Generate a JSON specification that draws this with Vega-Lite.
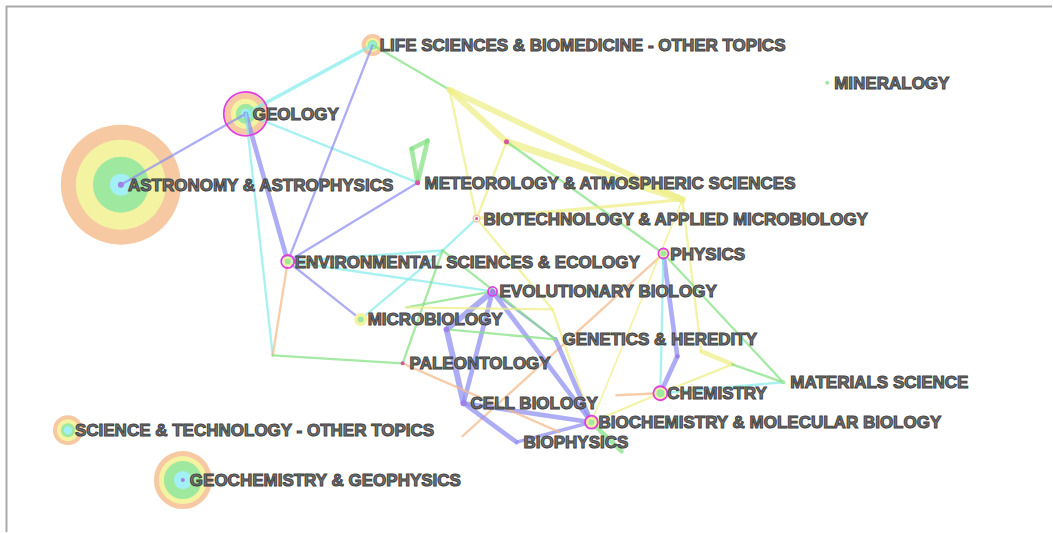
{
  "$schema": "https://vega.github.io/schema/vega-lite/v6.json",
  "width": 1053,
  "height": 533,
  "autosize": {"type": "fit", "contains": "padding"},
  "padding": 0,
  "background": "white",
  "config": {"view": {"stroke": null}},
  "datasets": {
    "nodes": [
      {"id": "ASTRO", "label": "ASTRONOMY & ASTROPHYSICS", "x": 121, "y": 185},
      {"id": "GEOLOGY", "label": "GEOLOGY", "x": 246, "y": 114},
      {"id": "LIFE", "label": "LIFE SCIENCES & BIOMEDICINE - OTHER TOPICS", "x": 373, "y": 45},
      {"id": "METEO", "label": "METEOROLOGY & ATMOSPHERIC SCIENCES", "x": 418, "y": 183},
      {"id": "BIOTECH", "label": "BIOTECHNOLOGY & APPLIED MICROBIOLOGY", "x": 477, "y": 219},
      {"id": "ENV", "label": "ENVIRONMENTAL SCIENCES & ECOLOGY", "x": 288, "y": 262},
      {"id": "EVOL", "label": "EVOLUTIONARY BIOLOGY", "x": 493, "y": 292},
      {"id": "MICRO", "label": "MICROBIOLOGY", "x": 361, "y": 320},
      {"id": "PALEO", "label": "PALEONTOLOGY", "x": 403, "y": 364},
      {"id": "GENET", "label": "GENETICS & HEREDITY", "x": 556, "y": 340},
      {"id": "CELL", "label": "CELL BIOLOGY", "x": 464, "y": 404},
      {"id": "BIOCHEM", "label": "BIOCHEMISTRY & MOLECULAR BIOLOGY", "x": 592, "y": 423},
      {"id": "BIOPHYS", "label": "BIOPHYSICS", "x": 517, "y": 443},
      {"id": "PHYSICS", "label": "PHYSICS", "x": 664, "y": 254},
      {"id": "CHEM", "label": "CHEMISTRY", "x": 661, "y": 394},
      {"id": "MATER", "label": "MATERIALS SCIENCE", "x": 784, "y": 383},
      {"id": "MINER", "label": "MINERALOGY", "x": 828, "y": 83},
      {"id": "SCITECH", "label": "SCIENCE & TECHNOLOGY - OTHER TOPICS", "x": 68, "y": 431},
      {"id": "GEOCHEM", "label": "GEOCHEMISTRY & GEOPHYSICS", "x": 183, "y": 481},
      {"id": "h1", "label": "", "x": 450, "y": 90},
      {"id": "h2", "label": "", "x": 507, "y": 142},
      {"id": "h3", "label": "", "x": 683, "y": 200},
      {"id": "h4", "label": "", "x": 443, "y": 251},
      {"id": "h5", "label": "", "x": 273, "y": 356},
      {"id": "h6", "label": "", "x": 412, "y": 149},
      {"id": "h7", "label": "", "x": 428, "y": 141},
      {"id": "h8", "label": "", "x": 447, "y": 330},
      {"id": "h9", "label": "", "x": 407, "y": 308},
      {"id": "h10", "label": "", "x": 678, "y": 357},
      {"id": "h11", "label": "", "x": 733, "y": 365},
      {"id": "h12", "label": "", "x": 702, "y": 352},
      {"id": "h13", "label": "", "x": 463, "y": 437},
      {"id": "h14", "label": "", "x": 617, "y": 396},
      {"id": "h15", "label": "", "x": 622, "y": 452},
      {"id": "h16", "label": "", "x": 560, "y": 433},
      {"id": "h18", "label": "", "x": 553, "y": 310}
    ],
    "edges": [
      {"source": "ASTRO", "target": "GEOLOGY", "slice": "p", "w": 2},
      {"source": "GEOLOGY", "target": "LIFE", "slice": "c", "w": 3},
      {"source": "GEOLOGY", "target": "METEO", "slice": "c", "w": 2},
      {"source": "GEOLOGY", "target": "ENV", "slice": "p", "w": 4},
      {"source": "GEOLOGY", "target": "h5", "slice": "c", "w": 2},
      {"source": "LIFE", "target": "ENV", "slice": "p", "w": 2},
      {"source": "LIFE", "target": "h1", "slice": "g", "w": 2},
      {"source": "METEO", "target": "ENV", "slice": "p", "w": 2},
      {"source": "METEO", "target": "h6", "slice": "g", "w": 4},
      {"source": "METEO", "target": "h7", "slice": "g", "w": 4},
      {"source": "h6", "target": "h7", "slice": "g", "w": 4},
      {"source": "h1", "target": "h2", "slice": "y", "w": 5},
      {"source": "h1", "target": "h3", "slice": "y", "w": 5},
      {"source": "h2", "target": "h3", "slice": "y", "w": 6},
      {"source": "h1", "target": "BIOTECH", "slice": "y", "w": 2},
      {"source": "BIOTECH", "target": "h18", "slice": "y", "w": 2},
      {"source": "h18", "target": "BIOCHEM", "slice": "y", "w": 2},
      {"source": "h2", "target": "BIOTECH", "slice": "y", "w": 2},
      {"source": "h2", "target": "PHYSICS", "slice": "g", "w": 2},
      {"source": "h3", "target": "BIOTECH", "slice": "y", "w": 3},
      {"source": "h3", "target": "h12", "slice": "y", "w": 2},
      {"source": "PHYSICS", "target": "MATER", "slice": "g", "w": 2},
      {"source": "PHYSICS", "target": "h10", "slice": "p", "w": 4},
      {"source": "h10", "target": "CHEM", "slice": "p", "w": 4},
      {"source": "PHYSICS", "target": "CHEM", "slice": "c", "w": 2},
      {"source": "PHYSICS", "target": "h13", "slice": "o", "w": 2},
      {"source": "CHEM", "target": "MATER", "slice": "c", "w": 2},
      {"source": "CHEM", "target": "h11", "slice": "y", "w": 2},
      {"source": "h12", "target": "h11", "slice": "y", "w": 4},
      {"source": "h11", "target": "MATER", "slice": "g", "w": 2},
      {"source": "CHEM", "target": "h14", "slice": "o", "w": 2},
      {"source": "CHEM", "target": "BIOCHEM", "slice": "y", "w": 2},
      {"source": "BIOCHEM", "target": "h3", "slice": "y", "w": 1.5},
      {"source": "BIOCHEM", "target": "EVOL", "slice": "p", "w": 4},
      {"source": "BIOCHEM", "target": "CELL", "slice": "p", "w": 4},
      {"source": "CELL", "target": "BIOPHYS", "slice": "p", "w": 4},
      {"source": "BIOPHYS", "target": "BIOCHEM", "slice": "p", "w": 3},
      {"source": "EVOL", "target": "h8", "slice": "p", "w": 5},
      {"source": "h8", "target": "CELL", "slice": "p", "w": 5},
      {"source": "EVOL", "target": "CELL", "slice": "p", "w": 4},
      {"source": "EVOL", "target": "GENET", "slice": "p", "w": 2},
      {"source": "GENET", "target": "BIOCHEM", "slice": "p", "w": 4},
      {"source": "ENV", "target": "MICRO", "slice": "p", "w": 2},
      {"source": "ENV", "target": "EVOL", "slice": "c", "w": 2},
      {"source": "ENV", "target": "h4", "slice": "c", "w": 2},
      {"source": "ENV", "target": "h5", "slice": "o", "w": 2},
      {"source": "h5", "target": "PALEO", "slice": "g", "w": 2},
      {"source": "BIOTECH", "target": "h4", "slice": "c", "w": 2},
      {"source": "h4", "target": "MICRO", "slice": "c", "w": 2},
      {"source": "h4", "target": "PALEO", "slice": "g", "w": 2},
      {"source": "h4", "target": "GENET", "slice": "g", "w": 2},
      {"source": "h9", "target": "EVOL", "slice": "g", "w": 2},
      {"source": "h9", "target": "h18", "slice": "y", "w": 2},
      {"source": "h8", "target": "GENET", "slice": "g", "w": 2},
      {"source": "PALEO", "target": "h16", "slice": "o", "w": 2},
      {"source": "BIOCHEM", "target": "h15", "slice": "g", "w": 4}
    ],
    "rings": [
      {"node": "ASTRO", "kind": "fill", "slice": "o", "r": 60},
      {"node": "ASTRO", "kind": "fill", "slice": "y", "r": 45},
      {"node": "ASTRO", "kind": "fill", "slice": "g", "r": 28},
      {"node": "ASTRO", "kind": "fill", "slice": "c", "r": 11},
      {"node": "ASTRO", "kind": "fill", "slice": "p", "r": 3},
      {"node": "GEOCHEM", "kind": "fill", "slice": "o", "r": 29},
      {"node": "GEOCHEM", "kind": "fill", "slice": "y", "r": 24},
      {"node": "GEOCHEM", "kind": "fill", "slice": "g", "r": 19},
      {"node": "GEOCHEM", "kind": "fill", "slice": "c", "r": 9},
      {"node": "GEOCHEM", "kind": "fill", "slice": "p", "r": 2},
      {"node": "GEOLOGY", "kind": "fill", "slice": "o", "r": 21},
      {"node": "GEOLOGY", "kind": "fill", "slice": "y", "r": 15},
      {"node": "GEOLOGY", "kind": "fill", "slice": "g", "r": 10},
      {"node": "GEOLOGY", "kind": "fill", "slice": "c", "r": 5},
      {"node": "SCITECH", "kind": "fill", "slice": "o", "r": 15},
      {"node": "SCITECH", "kind": "fill", "slice": "y", "r": 11},
      {"node": "SCITECH", "kind": "fill", "slice": "g", "r": 7},
      {"node": "SCITECH", "kind": "fill", "slice": "c", "r": 4},
      {"node": "LIFE", "kind": "fill", "slice": "o", "r": 11},
      {"node": "LIFE", "kind": "fill", "slice": "y", "r": 7},
      {"node": "LIFE", "kind": "fill", "slice": "g", "r": 5},
      {"node": "LIFE", "kind": "fill", "slice": "c", "r": 3},
      {"node": "CHEM", "kind": "dot", "slice": "y", "r": 6},
      {"node": "CHEM", "kind": "dot", "slice": "g", "r": 4},
      {"node": "BIOCHEM", "kind": "dot", "slice": "o", "r": 6},
      {"node": "BIOCHEM", "kind": "dot", "slice": "y", "r": 5},
      {"node": "BIOCHEM", "kind": "dot", "slice": "g", "r": 3},
      {"node": "ENV", "kind": "dot", "slice": "y", "r": 5},
      {"node": "ENV", "kind": "dot", "slice": "g", "r": 3},
      {"node": "MICRO", "kind": "dot", "slice": "y", "r": 6.5},
      {"node": "MICRO", "kind": "dot", "slice": "g", "r": 3},
      {"node": "PHYSICS", "kind": "dot", "slice": "y", "r": 4},
      {"node": "PHYSICS", "kind": "dot", "slice": "g", "r": 3},
      {"node": "EVOL", "kind": "dot", "slice": "p", "r": 2.5},
      {"node": "BIOTECH", "kind": "dot", "slice": "o", "r": 4},
      {"node": "BIOTECH", "kind": "dot", "slice": "w", "r": 2.5},
      {"node": "BIOTECH", "kind": "dot", "slice": "m", "r": 1.5},
      {"node": "METEO", "kind": "dot", "slice": "m", "r": 2.5},
      {"node": "PALEO", "kind": "dot", "slice": "m", "r": 2},
      {"node": "h2", "kind": "dot", "slice": "m", "r": 2.5},
      {"node": "CELL", "kind": "dot", "slice": "p", "r": 3},
      {"node": "h8", "kind": "dot", "slice": "p", "r": 2.5},
      {"node": "h10", "kind": "dot", "slice": "p", "r": 2},
      {"node": "MINER", "kind": "dot", "slice": "g", "r": 2},
      {"node": "MATER", "kind": "dot", "slice": "g", "r": 2},
      {"node": "GEOLOGY", "kind": "hub", "slice": "hub", "r": 22},
      {"node": "ENV", "kind": "hub", "slice": "hub", "r": 6.5},
      {"node": "EVOL", "kind": "hub", "slice": "hub", "r": 4.5},
      {"node": "PHYSICS", "kind": "hub", "slice": "hub", "r": 5},
      {"node": "CHEM", "kind": "hub", "slice": "hub", "r": 7},
      {"node": "BIOCHEM", "kind": "hub", "slice": "hub", "r": 6.5}
    ],
    "frame": [
      {"part": "top", "x": 6, "x2": 1053, "y": 6.5, "y2": 6.5},
      {"part": "left", "x": 6.5, "x2": 6.5, "y": 6, "y2": 533}
    ]
  },
  "layer": [
    {
      "data": {"name": "frame"},
      "mark": {"type": "rule", "color": "#a9a9a9", "strokeWidth": 2},
      "encoding": {
        "x": {"field": "x", "type": "quantitative", "scale": {"domain": [0, 1053], "nice": false, "zero": false}, "axis": null},
        "x2": {"field": "x2"},
        "y": {"field": "y", "type": "quantitative", "scale": {"domain": [0, 533], "nice": false, "zero": false, "reverse": true}, "axis": null},
        "y2": {"field": "y2"}
      }
    },
    {
      "data": {"name": "rings"},
      "transform": [
        {"filter": "datum.kind === 'fill'"},
        {"lookup": "node", "from": {"data": {"name": "nodes"}, "key": "id", "fields": ["x", "y"]}}
      ],
      "mark": {"type": "point", "shape": "circle", "filled": true, "opacity": 1, "strokeWidth": 0},
      "encoding": {
        "x": {"field": "x", "type": "quantitative", "axis": null},
        "y": {"field": "y", "type": "quantitative", "axis": null},
        "order": {"field": "r", "type": "quantitative", "sort": "descending"},
        "size": {"field": "r", "type": "quantitative", "legend": null, "scale": {"type": "pow", "exponent": 2, "domain": [0, 100], "range": [0, 40000]}},
        "color": {"field": "slice", "type": "nominal", "legend": null,
          "scale": {"domain": ["o", "y", "g", "c", "p", "m", "w"], "range": ["#f6c9a2", "#f4f3a2", "#9fe89f", "#a2f0f5", "#a27ee6", "#d9559f", "#ffffff"]}}
      }
    },
    {
      "data": {"name": "edges"},
      "transform": [
        {"lookup": "source", "from": {"data": {"name": "nodes"}, "key": "id", "fields": ["x", "y"]}, "as": ["sx", "sy"]},
        {"lookup": "target", "from": {"data": {"name": "nodes"}, "key": "id", "fields": ["x", "y"]}, "as": ["tx", "ty"]}
      ],
      "mark": {"type": "rule", "strokeCap": "round", "opacity": 0.72},
      "encoding": {
        "x": {"field": "sx", "type": "quantitative", "axis": null},
        "y": {"field": "sy", "type": "quantitative", "axis": null},
        "x2": {"field": "tx"},
        "y2": {"field": "ty"},
        "color": {"field": "slice", "type": "nominal", "legend": null,
          "scale": {"domain": ["p", "c", "g", "y", "o"], "range": ["#8e8ef2", "#86ecec", "#82e082", "#efef86", "#f2ba8a"]}},
        "strokeWidth": {"field": "w", "type": "quantitative", "legend": null, "scale": {"domain": [0, 6], "range": [0, 7]}}
      }
    },
    {
      "data": {"name": "rings"},
      "transform": [
        {"filter": "datum.kind === 'dot'"},
        {"lookup": "node", "from": {"data": {"name": "nodes"}, "key": "id", "fields": ["x", "y"]}}
      ],
      "mark": {"type": "point", "shape": "circle", "filled": true, "opacity": 1, "strokeWidth": 0},
      "encoding": {
        "x": {"field": "x", "type": "quantitative", "axis": null},
        "y": {"field": "y", "type": "quantitative", "axis": null},
        "order": {"field": "r", "type": "quantitative", "sort": "descending"},
        "size": {"field": "r", "type": "quantitative", "legend": null, "scale": {"type": "pow", "exponent": 2, "domain": [0, 100], "range": [0, 40000]}},
        "color": {"field": "slice", "type": "nominal", "legend": null,
          "scale": {"domain": ["o", "y", "g", "c", "p", "m", "w"], "range": ["#f6c9a2", "#f4f3a2", "#9fe89f", "#a2f0f5", "#a27ee6", "#d9559f", "#ffffff"]}}
      }
    },
    {
      "data": {"name": "rings"},
      "transform": [
        {"filter": "datum.kind === 'hub'"},
        {"lookup": "node", "from": {"data": {"name": "nodes"}, "key": "id", "fields": ["x", "y"]}}
      ],
      "mark": {"type": "point", "shape": "circle", "filled": false, "stroke": "#e13fdc", "strokeWidth": 1.8, "opacity": 1},
      "encoding": {
        "x": {"field": "x", "type": "quantitative", "axis": null},
        "y": {"field": "y", "type": "quantitative", "axis": null},
        "size": {"field": "r", "type": "quantitative", "legend": null, "scale": {"type": "pow", "exponent": 2, "domain": [0, 100], "range": [0, 40000]}}
      }
    },
    {
      "data": {"name": "nodes"},
      "transform": [{"filter": "datum.label !== ''"}],
      "mark": {"type": "text", "align": "left", "baseline": "middle", "dx": 7, "dy": 1,
        "font": "Liberation Sans", "fontWeight": "bold", "fontSize": 17,
        "fill": "#777777", "stroke": "#414141", "strokeWidth": 1},
      "encoding": {
        "x": {"field": "x", "type": "quantitative", "axis": null},
        "y": {"field": "y", "type": "quantitative", "axis": null},
        "text": {"field": "label"}
      }
    }
  ],
  "resolve": {"scale": {"color": "independent"}}
}
